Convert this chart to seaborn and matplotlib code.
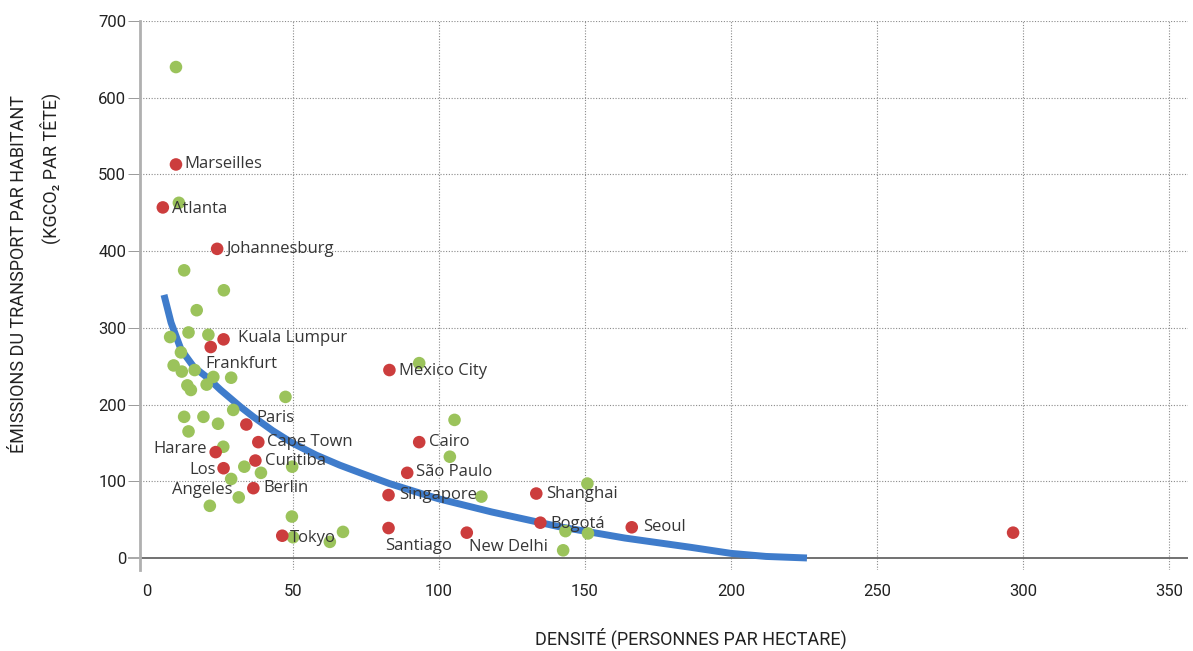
import matplotlib
matplotlib.use("Agg")
import matplotlib.pyplot as plt
import pandas as pd
import seaborn as sns

# Villes nommées (points rouges)
villes = ["Marseilles", "Atlanta", "Johannesburg", "Kuala Lumpur", "Frankfurt", "Mexico City",
          "Paris", "Cape Town", "Harare", "Los\nAngeles", "Curitiba", "Berlin", "Tokyo",
          "Singapore", "Santiago", "New Delhi", "Cairo", "São Paulo", "Shanghai", "Bogotá",
          "Seoul", ""]
densite_villes = [9.9, 5.4, 24.0, 26.2, 21.8, 83.0, 34.0, 38.1, 23.5, 26.2, 37.1, 36.4, 46.3,
                  82.7, 82.7, 109.5, 93.2, 89.1, 133.3, 134.7, 166.0, 296.6]
emissions_villes = [513, 457, 403, 285, 275, 245, 174, 151, 138, 117, 127, 91, 29,
                    82, 39, 33, 151, 111, 84, 46, 40, 33]

# Autres villes (points verts)
densite_autres = [10.9, 9.9, 12.7, 26.3, 17.0, 7.9, 14.2, 21.0, 11.6, 9.1, 11.9, 16.3, 13.8,
                  15.0, 20.4, 22.7, 28.8, 47.4, 29.5, 12.7, 19.3, 24.3, 14.2, 26.1, 33.3, 39.0,
                  28.8, 31.4, 21.5, 49.6, 49.7, 67.1, 62.6, 50.0, 93.2, 105.3, 103.7, 114.5,
                  150.8, 143.3, 151.0, 142.5]
emissions_autres = [463, 640, 375, 349, 323, 288, 294, 291, 268, 251, 243, 245, 225,
                    219, 226, 236, 235, 210, 193, 184, 184, 175, 165, 145, 119, 111,
                    103, 79, 68, 54, 119, 34, 21, 27, 254, 180, 132, 80,
                    97, 35, 32, 10]

# Courbe de tendance
courbe_x = [5.8, 8.2, 11.6, 16, 20.7, 25.2, 32, 36.4, 43, 49.7, 58, 66, 73, 83, 95.6, 100,
            118, 140.8, 163.6, 186, 200, 212, 226]
courbe_y = [343, 307, 272, 249, 235, 219, 197, 184, 166, 150, 134, 121, 111, 97, 82, 77,
            60, 41, 26, 14, 6, 2, 0]

xticks = [0, 50, 100, 150, 200, 250, 300, 350]
yticks = [0, 100, 200, 300, 400, 500, 600, 700]

# position des étiquettes (décalage en pixels, alignement)
pos_etiquettes = {
    "Marseilles": (8, 0, "left"), "Atlanta": (9, -2, "left"),
    "Johannesburg": (9, 0, "left"), "Kuala Lumpur": (14, 1, "left"),
    "Frankfurt": (-5, -17, "left"), "Mexico City": (10, -1, "left"),
    "Paris": (10, 7, "left"), "Cape Town": (9, 0, "left"),
    "Harare": (-9, 3, "right"), "Los\nAngeles": (-21, -12, "center"),
    "Curitiba": (10, 0, "left"), "Berlin": (10, 0, "left"),
    "Tokyo": (8, -2, "left"), "Singapore": (11, 0, "left"),
    "Santiago": (-3, -18, "left"), "New Delhi": (2, -14, "left"),
    "Cairo": (10, 0, "left"), "São Paulo": (9, 1, "left"),
    "Shanghai": (10, 0, "left"), "Bogotá": (10, -1, "left"),
    "Seoul": (11, 0, "left"),
}

sns.set_style("white")
plt.rcParams["font.family"] = ["Roboto", "DejaVu Sans"]

fig = plt.figure(figsize=(11.93, 6.51), dpi=100)
ax = fig.add_axes([0.1174, 0.1244, 0.8784, 0.8433])

rouges = pd.DataFrame({"densite": densite_villes, "emissions": emissions_villes, "ville": villes})
verts = pd.DataFrame({"densite": densite_autres, "emissions": emissions_autres})
courbe = pd.DataFrame({"x": courbe_x, "y": courbe_y})

sns.lineplot(data=courbe, x="x", y="y", sort=False, color="#3f7ccb", linewidth=5,
             solid_capstyle="butt", solid_joinstyle="round", ax=ax, zorder=2)
sns.scatterplot(data=verts, x="densite", y="emissions", color="#9bc35b", s=82,
                edgecolor="none", ax=ax, zorder=3)
sns.scatterplot(data=rouges, x="densite", y="emissions", color="#cc3d3d", s=82,
                edgecolor="none", ax=ax, zorder=4)

for _, r in rouges.iterrows():
    if r["ville"] == "":
        continue
    dx, dy, ha = pos_etiquettes[r["ville"]]
    ax.annotate(r["ville"], (r["densite"], r["emissions"]), xytext=(dx, dy),
                textcoords="offset pixels", ha=ha, va="center", multialignment="center",
                fontsize=12, family=["Open Sans", "DejaVu Sans"], color="#363636",
                linespacing=1.35, zorder=5)

ax.set_xlim(-2.4, 356.5)
ax.set_ylim(-15.7, 700)
ax.set_xticks(xticks)
ax.set_yticks(yticks)
ax.set_xlabel("")
ax.set_ylabel("")

ax.grid(True, linestyle=(0, (1, 1.5)), color="#8a8a8a", linewidth=0.8)
ax.set_axisbelow(True)
ax.xaxis.get_major_ticks()[0].gridline.set_visible(False)
ax.yaxis.get_major_ticks()[0].gridline.set_visible(False)
ax.axhline(0, color="#666666", linewidth=1.3, zorder=1)

for s in ["top", "right", "bottom"]:
    ax.spines[s].set_visible(False)
ax.spines["left"].set_color("#b0b0b0")
ax.spines["left"].set_linewidth(2)

ax.tick_params(axis="x", length=0, pad=10, labelsize=12, labelcolor="#222222")
ax.tick_params(axis="y", length=9, width=0.7, color="#9a9a9a", pad=1,
               labelsize=12, labelcolor="#222222", left=True)
ax.yaxis.get_major_ticks()[0].tick1line.set_color("#555555")
ax.yaxis.get_major_ticks()[0].tick1line.set_markeredgewidth(1.2)

fig.text(19 / 1193, 1 - 95 / 651, "ÉMISSIONS DU TRANSPORT PAR HABITANT", rotation=90,
         ha="center", va="top", fontsize=13, color="#222222")
fig.text(50 / 1193, 1 - 93 / 651, "(KGCO₂ PAR TÊTE)", rotation=90,
         ha="center", va="top", fontsize=13, color="#222222")
fig.text(691 / 1193, 1 - 638 / 651, "DENSITÉ (PERSONNES PAR HECTARE)",
         ha="center", va="center", fontsize=13, color="#222222")

fig.savefig("out.png", dpi=100)
